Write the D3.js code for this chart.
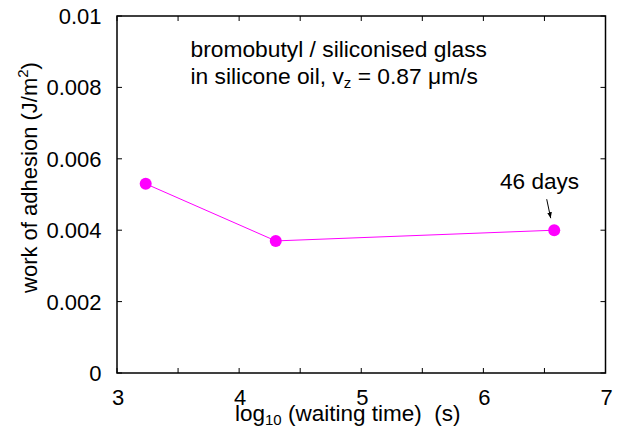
<!DOCTYPE html>
<html><head><meta charset="utf-8">
<script src="https://cdn.jsdelivr.net/npm/d3@7"></script>
<style>
html,body{margin:0;padding:0;background:#fff;}
svg{display:block;font-family:"Liberation Sans",Arial,Helvetica,sans-serif;}
</style></head>
<body>
<svg id="c" width="629" height="428"></svg>
<script>
const logTime = [3.235, 4.30, 6.58];
const workAdhesion = [0.0053, 0.0037, 0.0040];
const xTicks = [3, 4, 5, 6, 7];
const xMinorTicks = [3, 3.5, 4, 4.5, 5, 5.5, 6, 6.5, 7];
const yTicks = [0, 0.002, 0.004, 0.006, 0.008, 0.01];
const yTickLabels = ["0", "0.002", "0.004", "0.006", "0.008", "0.01"];

const svg = d3.select("#c");
const L = 117, R = 605.5, T = 16, B = 373;
const x = d3.scaleLinear().domain([3, 7]).range([L, R]);
const y = d3.scaleLinear().domain([0, 0.01]).range([B, T]);
const tl = 5;

// ticks
const g = svg.append("g").attr("stroke", "#000").attr("stroke-width", 1);
xMinorTicks.forEach(v => {
  g.append("line").attr("x1", x(v)).attr("x2", x(v)).attr("y1", B).attr("y2", B - tl);
  g.append("line").attr("x1", x(v)).attr("x2", x(v)).attr("y1", T).attr("y2", T + tl);
});
yTicks.forEach(v => {
  g.append("line").attr("x1", L).attr("x2", L + tl).attr("y1", y(v)).attr("y2", y(v));
  g.append("line").attr("x1", R).attr("x2", R - tl).attr("y1", y(v)).attr("y2", y(v));
});
// frame
svg.append("rect").attr("x", L).attr("y", T).attr("width", R - L).attr("height", B - T)
  .attr("fill", "none").attr("stroke", "#000").attr("stroke-width", 1.5);

// tick labels
svg.append("g").selectAll("text").data(xTicks).join("text")
  .attr("x", d => x(d) + 1).attr("y", 405).attr("text-anchor", "middle")
  .attr("font-size", 22).text(d => d);
svg.append("g").selectAll("text").data(yTicks).join("text")
  .attr("x", 101.5).attr("y", d => y(d)).attr("dy", "0.36em").attr("text-anchor", "end")
  .attr("font-size", 22).text((d, i) => yTickLabels[i]);

// axis titles
const xt = svg.append("text").attr("x", 235).attr("y", 421).attr("font-size", 22.5);
xt.append("tspan").text("log");
xt.append("tspan").attr("font-size", 15).attr("dy", 4).text("10");
xt.append("tspan").attr("dy", -4).text("\u00a0(waiting time)\u00a0\u00a0(s)");

const yt = svg.append("text").attr("transform", "translate(37,177.5) rotate(-90)")
  .attr("text-anchor", "middle").attr("font-size", 22);
yt.append("tspan").text("work of adhesion (J/m");
yt.append("tspan").attr("font-size", 15).attr("dy", -9).text("2");
yt.append("tspan").attr("dy", 9).text(")");

// annotation
svg.append("text").attr("x", 190.5).attr("y", 57).attr("font-size", 22.8).text("bromobutyl / siliconised glass");
const a2 = svg.append("text").attr("x", 190.5).attr("y", 83.5).attr("font-size", 22.8);
a2.append("tspan").text("in silicone oil, v");
a2.append("tspan").attr("font-size", 15).attr("dy", 4).text("z");
a2.append("tspan").attr("dy", -4).text(" = 0.87 \u03bcm/s");

// data line
const line = d3.line().x((d, i) => x(logTime[i])).y(d => y(d));
svg.append("path").datum(workAdhesion).attr("d", line)
  .attr("fill", "none").attr("stroke", "#ff00ff").attr("stroke-width", 1);
svg.append("g").selectAll("circle").data(workAdhesion).join("circle")
  .attr("cx", (d, i) => x(logTime[i])).attr("cy", d => y(d)).attr("r", 6).attr("fill", "#ff00ff");

// 46 days label + arrow
svg.append("text").attr("x", 500).attr("y", 189).attr("font-size", 22.6).text("46 days");
svg.append("defs").append("marker").attr("id", "ah").attr("viewBox", "0 0 10 10")
  .attr("refX", 10).attr("refY", 5).attr("markerWidth", 6).attr("markerHeight", 6)
  .attr("orient", "auto").attr("markerUnits", "userSpaceOnUse")
  .append("path").attr("d", "M0,1 L10,5 L0,9 z").attr("fill", "#000");
const px = x(logTime[2]), py = y(workAdhesion[2]);
svg.append("line").attr("x1", px - 7.5).attr("y1", py - 31).attr("x2", px - 3.5).attr("y2", py - 12)
  .attr("stroke", "#000").attr("stroke-width", 1).attr("marker-end", "url(#ah)");
</script>
</body></html>
